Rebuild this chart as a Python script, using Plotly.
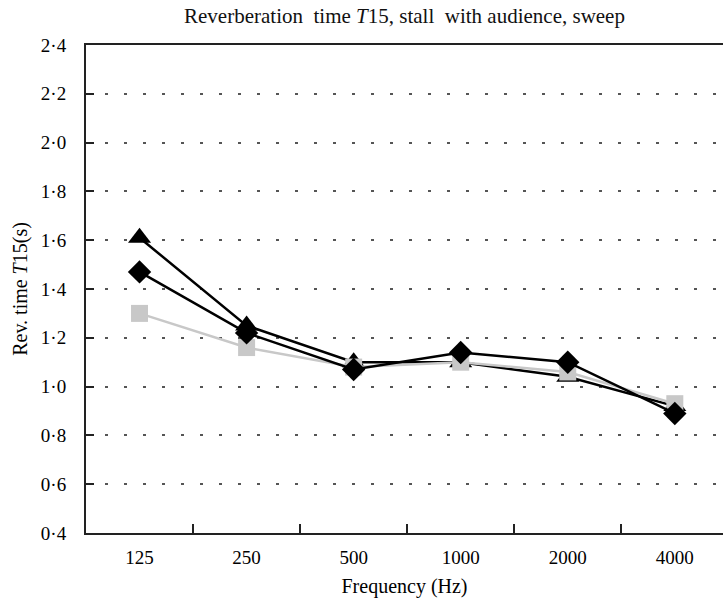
import plotly.graph_objects as go

freqs = ["125", "250", "500", "1000", "2000", "4000"]
square_vals = [1.30, 1.16, 1.08, 1.10, 1.06, 0.93]
triangle_vals = [1.61, 1.25, 1.10, 1.10, 1.04, 0.92]
diamond_vals = [1.47, 1.22, 1.07, 1.14, 1.10, 0.89]
ytick_vals = [0.4, 0.6, 0.8, 1.0, 1.2, 1.4, 1.6, 1.8, 2.0, 2.2, 2.4]
ytick_text = ["0·4", "0·6", "0·8", "1·0", "1·2", "1·4", "1·6", "1·8", "2·0", "2·2", "2·4"]

serif = "Liberation Serif, Times New Roman, serif"
FS = 19
TS = 20

fig = go.Figure()
fig.add_trace(go.Scatter(x=freqs, y=triangle_vals, mode="lines+markers",
                         line=dict(color="black", width=2.5),
                         marker=dict(symbol="triangle-up", size=20, color="black"),
                         showlegend=False))
fig.add_trace(go.Scatter(x=freqs, y=square_vals, mode="lines+markers",
                         line=dict(color="#c8c8c8", width=2.5),
                         marker=dict(symbol="square", size=17, color="#c8c8c8"),
                         showlegend=False))
fig.add_trace(go.Scatter(x=freqs, y=diamond_vals, mode="lines+markers",
                         line=dict(color="black", width=2.5),
                         marker=dict(symbol="diamond", size=18, color="black"),
                         showlegend=False))

fig.update_layout(
    width=723, height=607,
    margin=dict(l=86, r=0, t=45, b=74),
    paper_bgcolor="white", plot_bgcolor="white",
    font=dict(family=serif, size=FS, color="black"),
    title=dict(text="Reverberation  time <i>T</i>15, stall  with audience, sweep",
               x=(86 + 723) / 2 / 723, xanchor="center", y=1 - 16 / 607, yanchor="middle",
               font=dict(family=serif, size=21, color="#111")),
    xaxis=dict(type="category", range=[-0.5, 5.45],
               tickson="boundaries", ticks="inside", ticklen=9, tickwidth=2, tickcolor="#222",
               showline=True, linecolor="#222", linewidth=2, mirror=True,
               showgrid=False, zeroline=False, ticklabelstandoff=6,
               title=dict(text="Frequency (Hz)", standoff=12, font=dict(family=serif, size=TS)),
               tickfont=dict(family=serif, size=FS)),
    yaxis=dict(range=[0.4, 2.4], tickvals=ytick_vals, ticktext=ytick_text,
               ticks="inside", ticklen=8, tickwidth=2, tickcolor="#222",
               showline=True, linecolor="#222", linewidth=2, mirror=False,
               showgrid=True, gridcolor="#555", gridwidth=2, griddash="3px,16px",
               zeroline=False, ticklabelstandoff=14,
               title=dict(text="Rev. time <i>T</i>15(s)", standoff=8, font=dict(family=serif, size=TS)),
               tickfont=dict(family=serif, size=FS)),
)

fig.write_html("out.html")
